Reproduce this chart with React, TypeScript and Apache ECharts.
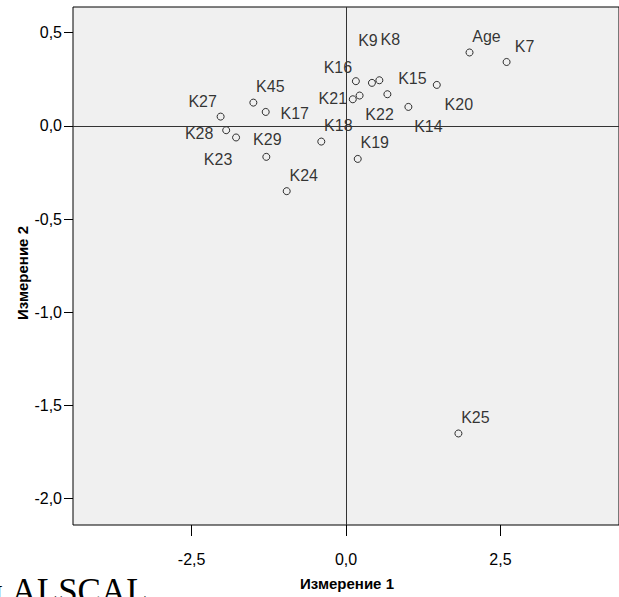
import React, { useEffect, useRef } from "react";
import * as echarts from "echarts";

// ---- data ----
const stimulusNames = ["K27", "K45", "K17", "K28", "K23", "K29", "K18", "K24", "K16", "K9", "K8", "K21", "K22", "K15", "K14", "K20", "K19", "Age", "K7", "K25"];
const dimension1 = [-2.03, -1.5, -1.3, -1.94, -1.78, -1.29, -0.4, -0.96, 0.16, 0.42, 0.54, 0.11, 0.22, 0.67, 1.01, 1.47, 0.19, 2.0, 2.6, 1.82];
const dimension2 = [0.05, 0.125, 0.075, -0.023, -0.062, -0.166, -0.084, -0.35, 0.24, 0.231, 0.245, 0.143, 0.163, 0.17, 0.102, 0.22, -0.177, 0.394, 0.343, -1.65];
const xTickValues = [-2.5, 0, 2.5];
const yTickValues = [-2, -1.5, -1, -0.5, 0, 0.5];
const xAxisTitle = "Измерение 1";
const yAxisTitle = "Измерение 2";
const captionText = "н ALSCAL";

// ---- label placement (layout only, px offsets from the point) ----
const labelOffsets: Record<string, [number, number]> = {
  K27: [-18, -15], K45: [17, -16], K17: [29, 2], K28: [-27, 3], K23: [-18, 22],
  K29: [1, -17], K18: [17, -16], K24: [17, -16], K16: [-18, -14], K9: [-4, -42],
  K8: [11, -41], K21: [-20, -1], K22: [20, 19], K15: [25, -16], K14: [20, 20],
  K20: [22, 20], K19: [17, -16], Age: [17, -16], K7: [18, -15], K25: [17, -16],
};

const fmt = (v: number) => v.toFixed(1).replace(".", ",");

export default function App() {
  const ref = useRef<HTMLDivElement>(null);
  useEffect(() => {
    document.body.style.margin = "0";
    if (!ref.current) return;
    const chart = echarts.init(ref.current, null, { renderer: "svg" });
    const points = stimulusNames.map((n, i) => ({
      name: n,
      value: [dimension1[i], dimension2[i]],
      label: { offset: labelOffsets[n] || [17, -16] },
    }));
    chart.setOption({
      animation: false,
      backgroundColor: "#ffffff",
      grid: {
        left: 73,
        top: 7,
        width: 548,
        height: 518,
        show: true,
        backgroundColor: "#f0f0f0",
        borderColor: "#000000",
        borderWidth: 1,
      },
      xAxis: {
        type: "value",
        min: -4.42,
        max: 4.42,
        position: "bottom",
        axisLine: { show: false, onZero: false },
        splitLine: { show: false },
        axisTick: { show: true, length: 11, lineStyle: { color: "#000" }, customValues: xTickValues },
        axisLabel: {
          customValues: xTickValues,
          formatter: fmt,
          color: "#000",
          fontFamily: "Liberation Sans, Arial, sans-serif",
          fontSize: 16,
          margin: 26,
        },
      },
      yAxis: {
        type: "value",
        min: -2.141,
        max: 0.638,
        position: "left",
        axisLine: { show: false, onZero: false },
        splitLine: { show: false },
        axisTick: { show: true, length: 9, lineStyle: { color: "#000" }, customValues: yTickValues },
        axisLabel: {
          customValues: yTickValues,
          formatter: fmt,
          color: "#000",
          fontFamily: "Liberation Sans, Arial, sans-serif",
          fontSize: 16,
          margin: 11,
        },
      },
      series: [
        {
          type: "scatter",
          data: points,
          symbol: "circle",
          symbolSize: 7,
          itemStyle: { color: "rgba(0,0,0,0)", borderColor: "#000", borderWidth: 1 },
          label: {
            show: true,
            position: "inside",
            formatter: "{b}",
            color: "#000",
            fontFamily: "Liberation Sans, Arial, sans-serif",
            fontSize: 16,
            align: "center",
            verticalAlign: "middle",
          },
          markLine: {
            silent: true,
            symbol: ["none", "none"],
            label: { show: false },
            lineStyle: { color: "#333", width: 1, type: "solid" },
            data: [{ xAxis: 0 }, { yAxis: 0 }],
          },
        },
      ],
      graphic: [
        {
          type: "text",
          x: 347,
          y: 583,
          style: {
            text: xAxisTitle,
            fontFamily: "Liberation Sans, Arial, sans-serif",
            fontWeight: "bold",
            fontSize: 15,
            fill: "#000",
            align: "center",
            verticalAlign: "middle",
          },
        },
        {
          type: "text",
          x: 22,
          y: 273,
          rotation: Math.PI / 2,
          style: {
            text: yAxisTitle,
            fontFamily: "Liberation Sans, Arial, sans-serif",
            fontWeight: "bold",
            fontSize: 15,
            fill: "#000",
            align: "center",
            verticalAlign: "middle",
          },
        },
        {
          type: "text",
          x: -16,
          y: 591,
          style: {
            text: captionText,
            fontFamily: "Liberation Serif, Times New Roman, serif",
            fontSize: 35,
            fill: "#000",
            align: "left",
            verticalAlign: "middle",
          },
        },
      ],
    });
    return () => chart.dispose();
  }, []);
  return <div ref={ref} style={{ width: 619, height: 597 }} />;
}
